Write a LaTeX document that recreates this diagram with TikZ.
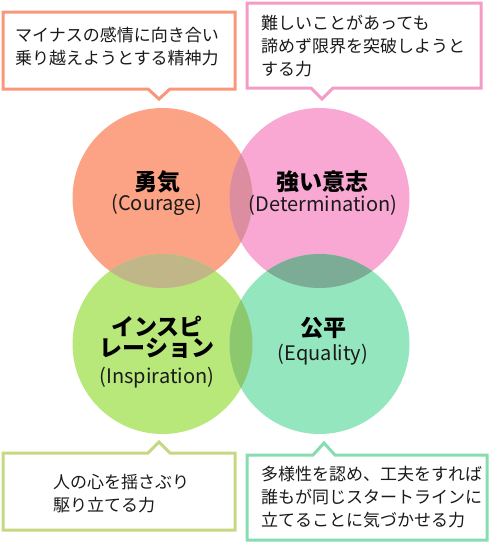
\documentclass[tikz,border=0pt]{standalone}
\usepackage{fontspec}
\setmainfont{Noto Sans CJK JP}
\definecolor{couragecol}{HTML}{FCA386}
\definecolor{detcol}{HTML}{F8A8D2}
\definecolor{inspcol}{HTML}{B8E87A}
\definecolor{equcol}{HTML}{94E6BE}
\definecolor{cdcol}{HTML}{DC8EA0}
\definecolor{cicol}{HTML}{C0B687}
\definecolor{decol}{HTML}{7DAC96}
\definecolor{iecol}{HTML}{8CC86E}
\definecolor{couragedark}{HTML}{F8977A}
\definecolor{detdark}{HTML}{F59CC6}
\definecolor{inspdark}{HTML}{C6D882}
\definecolor{equdark}{HTML}{86DDB2}
\definecolor{inkcol}{HTML}{1A1A1A}
\tikzset{
  petal/.style={
    shape = circle,
    inner sep = 0pt,
    minimum size = 180pt
  },
  bubble/.style={
    draw = #1,
    fill = white,
    line width = 3pt,
    line join = miter
  },
  bubbletext/.style={
    anchor = west,
    align = left,
    inner sep = 0pt,
    text = inkcol,
    font = \fontsize{17}{23}\selectfont
  },
  petaltitle/.style={
    align = center,
    inner sep = 0pt,
    font = \fontsize{23}{21}\selectfont\bfseries
  },
  petalsub/.style={
    inner sep = 0pt,
    text = inkcol,
    font = \fontsize{20}{22}\selectfont
  }
}
\begin{document}
\begin{tikzpicture}[x=1pt,y=-1pt]
    \useasboundingbox (0,0) rectangle (494,544);
    % four circles
    \foreach \n/\x/\y/\c in {courage/162.5/198/couragecol, determination/319.5/198/detcol,
                             inspiration/162.5/344/inspcol, equality/319.5/344/equcol}{
            \node[petal, fill=\c] (\n) at (\x,\y) {};
        }
    % overlaps
    \foreach \a/\b/\c in {courage/determination/cdcol, courage/inspiration/cicol,
                          determination/equality/decol, inspiration/equality/iecol}{
            \begin{scope}
                \clip (\a.center) circle (90);
                \fill[\c] (\b.center) circle (90);
            \end{scope}
        }
    % callouts
    \foreach \l/\t/\r/\b/\px/\ty/\c in {3/12/235/89/159/99/couragedark, 247/3/481/88/322/99/detdark}{
            \draw[bubble=\c] (\l,\t) -- (\r,\t) -- (\r,\b) -- (\px+11,\b) -- (\px,\ty)
                -- (\px-11,\b) -- (\l,\b) -- cycle;
        }
    \foreach \l/\t/\r/\b/\px/\ty/\c in {3/453/235/530/159/442/inspdark, 247/455/487/540/324/443/equdark}{
            \draw[bubble=\c] (\l,\t) -- (\px-11,\t) -- (\px,\ty) -- (\px+11,\t)
                -- (\r,\t) -- (\r,\b) -- (\l,\b) -- cycle;
        }
    \node[bubbletext] (couragenote) at (15,46.5) {マイナスの感情に向き合い\\乗り越えようとする精神力};
    \node[bubbletext] (determinationnote) at (261,46) {難しいことがあっても\\諦めず限界を突破しようと\\する力};
    \node[bubbletext] (inspirationnote) at (53,494) {人の心を揺さぶり\\駆り立てる力};
    \node[bubbletext] (equalitynote) at (261,497.5) {多様性を認め、工夫をすれば\\誰もが同じスタートラインに\\立てることに気づかせる力};
    % labels
    \node[petaltitle] (couragetitle) at (157,182) {勇気};
    \node[petalsub] (couragesub) at (157,205) {(Courage)};
    \node[petaltitle] (determinationtitle) at (322,182) {強い意志};
    \node[petalsub] (determinationsub) at (323,205) {(Determination)};
    \node[petaltitle] (inspirationtitle) at (157,337.5) {インスピ\\レーション};
    \node[petalsub] (inspirationsub) at (157,378) {(Inspiration)};
    \node[petaltitle] (equalitytitle) at (323,328) {公平};
    \node[petalsub] (equalitysub) at (323,355) {(Equality)};
\end{tikzpicture}
\end{document}
